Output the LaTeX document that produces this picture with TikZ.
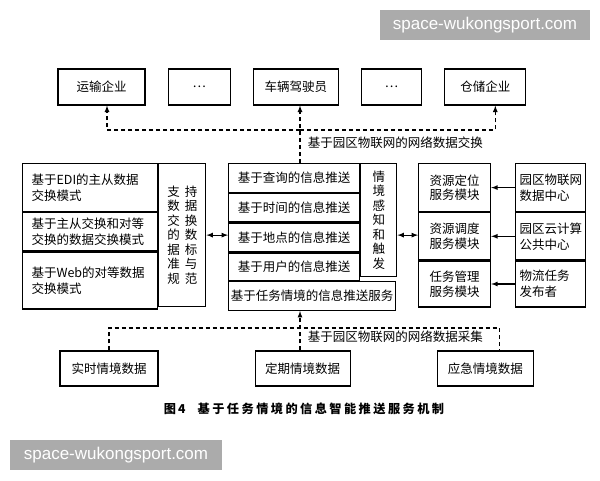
\documentclass[tikz,border=0pt]{standalone}
\usepackage{fontspec}
\setmainfont{Noto Sans CJK SC}
\newfontfamily\wmfont{Liberation Sans}
\newfontfamily\capfont[LetterSpace=20]{Noto Sans CJK SC}
\usetikzlibrary{positioning}

\begin{document}
\begin{tikzpicture}[x=1pt, y=-1pt, >=latex, very thick, node distance={22pt},
    font=\fontsize{12.5}{14.5}\selectfont,
    main/.style = {draw, rectangle, inner sep=0pt},
    cell/.style = {main, anchor=north west, align=center},
    lcell/.style = {main, anchor=north west, align=left, inner xsep=9pt, font=\fontsize{12.5}{16}\selectfont},
    dashline/.style = {dash pattern=on 4pt off 3pt},
    wmark/.style = {fill=black!33, text=white, inner sep=0pt, font=\wmfont\fontsize{17}{17}\selectfont}]
    \useasboundingbox (0,0) rectangle (600,480);

    % top row
    \node[main, minimum width=87pt, minimum height=36pt] (yunshu) at (101.5,87) {运输企业};
    \node[main, minimum width=62pt, minimum height=36pt] (dots1) [right=of yunshu] {…};
    \node[main, minimum width=85pt, minimum height=36pt] (driver) [right=of dots1] {车辆驾驶员};
    \node[main, minimum width=60pt, minimum height=36pt] (dots2) [right=of driver] {…};
    \node[main, minimum width=81pt, minimum height=36pt] (cangchu) [right=of dots2] {仓储企业};

    % left group
    \node[lcell, text width=117pt, minimum height=48pt] (edi) at (22,163) {基于EDI的主从数据\\交换模式};
    \node[lcell, text width=117pt, minimum height=38pt, below=0pt of edi] (p2p) {基于主从交换和对等\\交换的数据交换模式};
    \node[lcell, text width=117pt, minimum height=57pt, below=0pt of p2p] (web) {基于Web的对等数据\\交换模式};
    \node[cell, minimum width=47pt, minimum height=143pt] (std) at (edi.north east) {支\hspace{5pt}持\\数\hspace{5pt}据\\交\hspace{5pt}换\\的\hspace{5pt}数\\据\hspace{5pt}标\\准\hspace{5pt}与\\规\hspace{5pt}范};

    % middle group
    \node[cell, minimum width=131pt, minimum height=29pt] (query) at (228,163) {基于查询的信息推送};
    \node[cell, minimum width=131pt, minimum height=28pt, below=0pt of query] (time) {基于时间的信息推送};
    \node[cell, minimum width=131pt, minimum height=29pt, below=0pt of time] (place) {基于地点的信息推送};
    \node[cell, minimum width=131pt, minimum height=27pt, below=0pt of place] (user) {基于用户的信息推送};
    \node[cell, minimum width=36pt, minimum height=113pt] (sense) at (query.north east) {情\\境\\感\\知\\和\\触\\发};
    \node[cell, minimum width=167pt, minimum height=29pt] (task) at (user.south west) {基于任务情境的信息推送服务};

    % right group
    \node[cell, minimum width=72pt, minimum height=48pt] (locate) at (418,163) {资源定位\\服务模块};
    \node[cell, minimum width=72pt, minimum height=47pt, below=0pt of locate] (schedule) {资源调度\\服务模块};
    \node[cell, minimum width=72pt, minimum height=46pt, below=0pt of schedule] (manage) {任务管理\\服务模块};
    \node[lcell, inner xsep=4pt, text width=62pt, minimum height=48pt] (iotdc) at (515,163) {园区物联网\\数据中心};
    \node[lcell, inner xsep=4pt, text width=62pt, minimum height=47pt, below=0pt of iotdc] (cloud) {园区云计算\\公共中心};
    \node[lcell, inner xsep=4pt, text width=62pt, minimum height=46pt, below=0pt of cloud] (publisher) {物流任务\\发布者};

    % bottom row
    \node[main, minimum width=98pt, minimum height=35pt] (realtime) at (109,368.5) {实时情境数据};
    \node[main, minimum width=95pt, minimum height=35pt] (periodic) [right=96pt of realtime] {定期情境数据};
    \node[main, minimum width=96pt, minimum height=35pt] (emergency) [right=86pt of periodic] {应急情境数据};

    \draw[<->] (std.east) -- (std.east -| query.west);
    \draw[<->] (std.east -| sense.east) -- (std.east -| schedule.west);
    \draw[->] (iotdc) -- (locate);
    \draw[->] (cloud) -- (schedule);
    \draw[->] (publisher) -- (manage);

    % data exchange
    \coordinate (xtop) at (300,130);
    \draw[->, dashline] (xtop |- query.north) -- (xtop |- driver.south);
    \draw[->, dashline] (xtop) -| ([xshift=5.5pt]yunshu.south);
    \draw[->, dashline] (xtop) -| ([xshift=10pt]cangchu.south);
    \node[anchor=west] (exlabel) at (304,143) {基于园区物联网的网络数据交换};

    % data collection
    \coordinate (xbot) at (300,328);
    \draw[->, dashline] (periodic.north -| xbot) -- (task.south -| xbot);
    \draw[dashline] (realtime.north) |- (xbot) -| ([xshift=14pt]emergency.north);
    \node[anchor=west] (collabel) at (304,337) {基于园区物联网的网络数据采集};

    \node (caption) at (304,409) {\capfont\fontsize{12.2}{13}\selectfont\bfseries 图\,4\quad 基于任务情境的信息智能推送服务机制};

    \node[wmark, minimum width=210pt, minimum height=30pt] (wm1) at (485,25) {space-wukongsport.com};
    \node[wmark, minimum width=212pt, minimum height=30pt] (wm2) at (116,455) {space-wukongsport.com};
\end{tikzpicture}
\end{document}
